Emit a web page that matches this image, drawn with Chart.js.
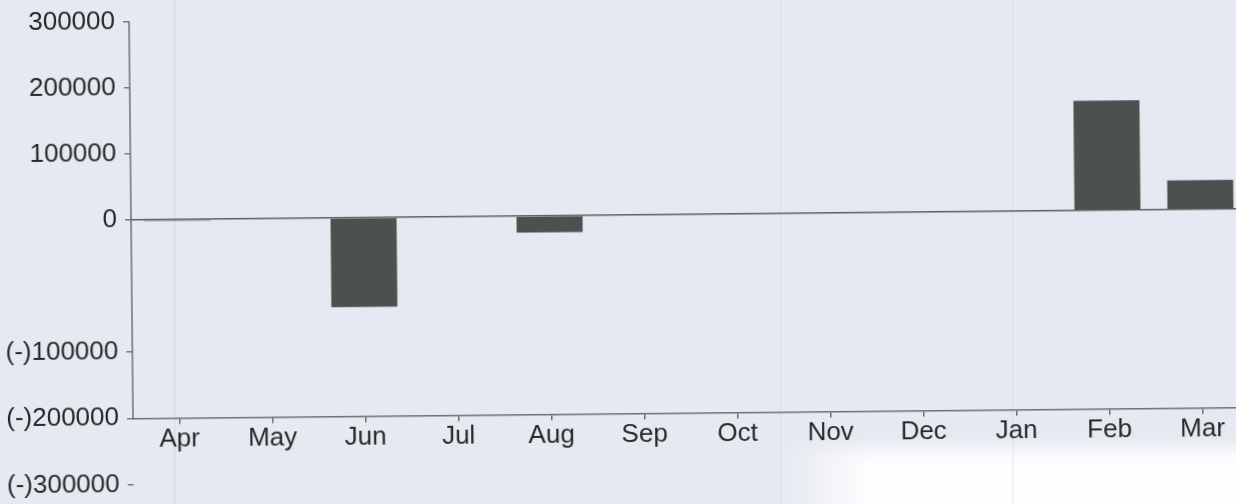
<!DOCTYPE html>
<html>
<head>
<meta charset="utf-8">
<script src="https://cdn.jsdelivr.net/npm/chart.js@4.4.1/dist/chart.umd.min.js"></script>
<style>
  html, body { margin: 0; padding: 0; width: 1236px; height: 504px; overflow: hidden; }
  body { background: #e6e9f1; position: relative; }
  #paper { position: absolute; left: 780px; top: 436px; width: 470px; height: 80px;
           background: linear-gradient(to bottom, rgba(255,255,255,0) 0, rgba(255,255,255,0.9) 24px, #fdfdff 100%);
           -webkit-mask-image: linear-gradient(to right, transparent 0, #000 90px); }
  #streaks { position: absolute; left: 0; top: 0; width: 1236px; height: 504px;
             background:
               linear-gradient(to right, transparent 174px, rgba(222,205,238,0.45) 174px, rgba(222,205,238,0.45) 176px, transparent 176px),
               linear-gradient(to right, transparent 780px, rgba(232,210,228,0.35) 780px, rgba(232,210,228,0.35) 782px, transparent 782px),
               linear-gradient(to right, transparent 1012px, rgba(228,210,232,0.35) 1012px, rgba(228,210,232,0.35) 1014px, transparent 1014px); }
  #wrap { position: absolute; left: 0; top: -2px; width: 1260px; height: 510px;
          transform-origin: 131px 219px; transform: rotate(-0.57deg); }
</style>
</head>
<body>
<div id="paper"></div>
<div id="streaks"></div>
<div id="wrap"><canvas id="chart" width="1260" height="510"></canvas></div>
<script>
var months = ["Apr", "May", "Jun", "Jul", "Aug", "Sep", "Oct", "Nov", "Dec", "Jan", "Feb", "Mar"];
var monthValues = [-2000, 0, -135000, 0, -25000, 0, 0, 0, 0, 0, 166000, 44000];
var tickValues = [300000, 200000, 100000, 0, -100000, -200000, -300000, -400000];
var tickLabels = ["300000", "200000", "100000", "0", "", "(-)100000", "(-)200000", "(-)300000"];
var axisValue = -300000;

function labelFor(v) {
    var i = tickValues.indexOf(v);
    return i >= 0 ? tickLabels[i] : "";
}

var yAxisLine = {
    id: "yAxisLine",
    afterDraw: function(chart) {
        var ctx = chart.ctx;
        var a = chart.chartArea;
        var yBottom = chart.scales.y.getPixelForValue(axisValue);
        ctx.save();
        ctx.strokeStyle = "#6c716b";
        ctx.lineWidth = 1.5;
        ctx.beginPath();
        ctx.moveTo(a.left, a.top);
        ctx.lineTo(a.left, yBottom);
        ctx.stroke();
        ctx.restore();
    }
};

var textFont = { family: "Liberation Sans, Arial, sans-serif", size: 26 };

var ctx = document.getElementById("chart").getContext("2d");
var myChart = new Chart(ctx, {
    type: "bar",
    data: {
        labels: months,
        datasets: [{
            data: monthValues,
            backgroundColor: "#4b514e",
            borderWidth: 0,
            barPercentage: 0.71,
            categoryPercentage: 1
        }]
    },
    options: {
        responsive: false,
        animation: false,
        layout: { padding: { left: 0, right: 13, top: 20, bottom: 8 } },
        plugins: { legend: { display: false }, tooltip: { enabled: false } },
        scales: {
            x: {
                position: { y: axisValue },
                offset: true,
                grid: { offset: false, drawOnChartArea: false, tickLength: 5, tickColor: "#6c716b", lineWidth: 1.5 },
                border: { color: "#6c716b", width: 1.5 },
                ticks: { font: textFont, color: "#252c27", padding: 1, maxRotation: 0, autoSkip: false }
            },
            y: {
                min: -400000,
                max: 300000,
                afterBuildTicks: function(scale) {
                    scale.ticks = tickValues.map(function(v) { return { value: v }; });
                },
                afterFit: function(scale) { scale.width = 131; },
                border: { display: false },
                grid: {
                    drawOnChartArea: true,
                    tickLength: 6,
                    lineWidth: 1.5,
                    color: function(c) { return c.tick && c.tick.value === 0 ? "#5c625c" : "rgba(0,0,0,0)"; },
                    tickColor: function(c) { return c.tick && labelFor(c.tick.value) !== "" ? "#7a7f78" : "rgba(0,0,0,0)"; }
                },
                ticks: {
                    font: textFont,
                    color: "#252c27",
                    padding: 8,
                    callback: function(value) { return labelFor(value); }
                }
            }
        }
    },
    plugins: [yAxisLine]
});
</script>
</body>
</html>
